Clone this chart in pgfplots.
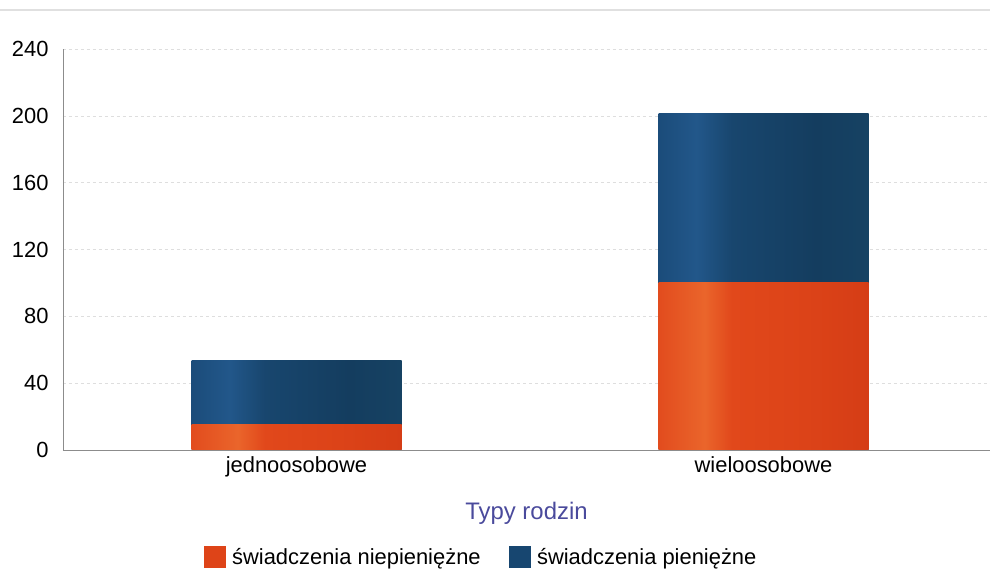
\documentclass[border=0pt]{standalone}
\usepackage{pgfplots}
\pgfplotsset{compat=1.18}
\usepackage{fontspec}
\setmainfont{Liberation Sans}
\definecolor{orng}{HTML}{DE4418}
\definecolor{blu}{HTML}{174670}
\definecolor{axtitle}{HTML}{4A4A9C}
\definecolor{oA}{HTML}{E24C1E}
\definecolor{oB}{HTML}{EA652B}
\definecolor{oC}{HTML}{E1481B}
\definecolor{oD}{HTML}{DC4318}
\definecolor{oE}{HTML}{D53D16}
\definecolor{bA}{HTML}{1B4C7A}
\definecolor{bB}{HTML}{22578A}
\definecolor{bC}{HTML}{18466E}
\definecolor{bD}{HTML}{143D5F}
\definecolor{bE}{HTML}{164263}
\pgfdeclarehorizontalshading{orshade}{100bp}{color(0bp)=(oA); color(25bp)=(oA); color(36bp)=(oB); color(42.5bp)=(oC); color(60bp)=(oD); color(75bp)=(oE); color(100bp)=(oE)}
\pgfdeclarehorizontalshading{blshade}{100bp}{color(0bp)=(bA); color(25bp)=(bA); color(34bp)=(bB); color(42.5bp)=(bC); color(62.5bp)=(bD); color(75bp)=(bE); color(100bp)=(bE)}
\begin{document}
\begin{tikzpicture}
\path[use as bounding box] (0bp,0bp) rectangle (990bp,573bp);
\draw[black!12, line width=1.2bp] (0bp,563bp) -- (990bp,563bp);
\begin{axis}[
  at={(63bp,123bp)}, anchor=south west,
  scale only axis, width=927bp, height=401bp,
  xmin=-0.5, xmax=1.485, ymin=0, ymax=240,
  ybar, bar width=210bp, bar shift=0pt,
  xtick={0,1}, xticklabels={jednoosobowe, wieloosobowe},
  ytick={0,40,...,240},
  ymajorgrids, grid style={black!13, dashed},
  axis x line*=bottom, axis y line*=left,
  axis line style={black!45, line width=0.8bp},
  tick style={draw=none},
  /pgf/number format/assume math mode=true,
  tick label style={font=\fontsize{22}{26}\selectfont},
  yticklabel style={xshift=-11bp},
  xticklabel style={yshift=1bp},
  xlabel={Typy rodzin},
  xlabel style={font=\fontsize{24}{28}\selectfont, text=axtitle, at={(axis description cs:0.5,-0.157)}, anchor=center},
  legend style={at={(axis description cs:0.451,-0.267)}, anchor=center, draw=none, fill=none,
    legend columns=2, font=\fontsize{22}{26}\selectfont,
    /tikz/every odd column/.append style={column sep=5bp},
    /tikz/every even column/.append style={column sep=26bp}},
]
% jednoosobowe: niepieniezne 15, pieniezne 38.5 (top of stack 53.5)
\addplot[shading=blshade, draw=none, forget plot] coordinates {(0,53.5)};
\addplot[shading=orshade, draw=none, forget plot] coordinates {(0,15)};
% wieloosobowe: niepieniezne 100.5, pieniezne 101 (top of stack 201.5)
\addplot[shading=blshade, draw=none, forget plot] coordinates {(1,201.5)};
\addplot[shading=orshade, draw=none, forget plot] coordinates {(1,100.5)};
\addlegendimage{legend image code/.code={\fill[orng] (0bp,-10bp) rectangle (21bp,11bp);}}
\addlegendentry{świadczenia niepieniężne}
\addlegendimage{legend image code/.code={\fill[blu] (0bp,-10bp) rectangle (21bp,11bp);}}
\addlegendentry{świadczenia pieniężne}
\end{axis}
\end{tikzpicture}
\end{document}
